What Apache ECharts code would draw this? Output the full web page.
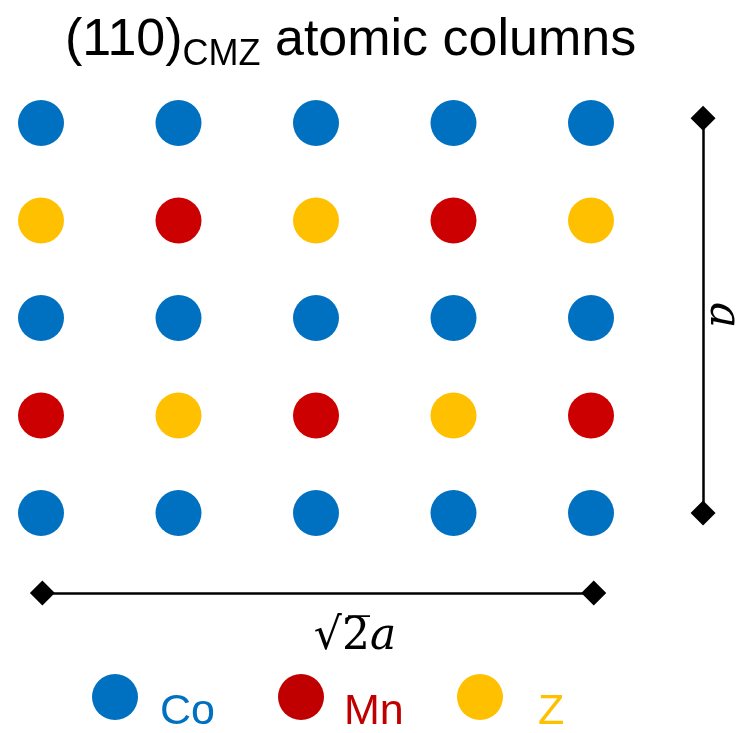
<!DOCTYPE html>
<html>
<head>
<meta charset="utf-8">
<script src="https://cdn.jsdelivr.net/npm/echarts@6/dist/echarts.min.js"></script>
<style>
html,body{margin:0;padding:0;background:#fff;}
#chart{width:744px;height:733px;}
</style>
</head>
<body>
<div id="chart"></div>
<script>
// ---- data ----
const columns = [0, 1, 2, 3, 4];
const rows = [0, 1, 2, 3, 4];
const siteRows = [
  ['Co', 'Co', 'Co', 'Co', 'Co'],
  ['Z',  'Mn', 'Z',  'Mn', 'Z'],
  ['Co', 'Co', 'Co', 'Co', 'Co'],
  ['Mn', 'Z',  'Mn', 'Z',  'Mn'],
  ['Co', 'Co', 'Co', 'Co', 'Co']
];
const elements = ['Co', 'Mn', 'Z'];
const elementColors = ['#0070C0', '#CC0000', '#FFC000'];
const legendColors = ['#0070C0', '#C00000', '#FFC000'];
// scale bars in lattice units
const verticalBar = [[4.815, -0.05], [4.815, 4.0]];
const horizontalBar = [[0.01, 4.82], [4.02, 4.82]];

function pointsFor(el) {
  const out = [];
  rows.forEach(r => columns.forEach(c => {
    if (siteRows[r][c] === el) out.push([c, r]);
  }));
  return out;
}

const chart = echarts.init(document.getElementById('chart'));
const circleSeries = elements.map((el, i) => ({
  name: el,
  type: 'scatter',
  data: pointsFor(el),
  symbol: 'circle',
  symbolSize: 46,
  itemStyle: { color: elementColors[i], opacity: 1 },
  emphasis: { disabled: true },
  silent: true
}));
const barSeries = {
  type: 'lines',
  coordinateSystem: 'cartesian2d',
  symbol: ['diamond', 'diamond'],
  symbolSize: 25,
  clip: false,
  lineStyle: { color: '#000', width: 2.5, opacity: 1 },
  silent: true,
  animation: false,
  data: [{ coords: verticalBar }, { coords: horizontalBar }]
};
const legendLefts = [87, 273, 452];
const legendTextPads = [[30, 0, 0, 17], [30, 0, 0, 15], [30, 0, 0, 30]];
const legends = elements.map((el, i) => ({
  left: legendLefts[i],
  top: 669,
  itemWidth: 46,
  itemHeight: 46,
  selectedMode: false,
  icon: 'circle',
  formatter: name => '{t|' + name + '}',
  textStyle: {
    rich: { t: { color: legendColors[i], fontSize: 43, fontFamily: 'Liberation Sans', padding: legendTextPads[i] } }
  },
  data: [{ name: el, itemStyle: { color: legendColors[i] } }]
}));

chart.setOption({
  animation: false,
  title: {
    text: '{m|(110)}{s|CMZ}{m| atomic columns}',
    left: 60,
    top: 4,
    textStyle: {
      fontWeight: 'normal',
      rich: {
        m: { fontFamily: 'Liberation Sans', fontWeight: 'normal', fontSize: 52, color: '#000', lineHeight: 64, verticalAlign: 'middle' },
        s: { fontFamily: 'Liberation Sans', fontWeight: 'normal', fontSize: 36, color: '#000', lineHeight: 36, verticalAlign: 'bottom' }
      }
    }
  },
  grid: { left: 41, right: 153, top: 123, bottom: 220 },
  xAxis: { type: 'value', min: 0, max: 4, show: false },
  yAxis: { type: 'value', min: 0, max: 4, inverse: true, show: false },
  legend: legends,
  series: circleSeries.concat([barSeries]),
  graphic: [
    {
      type: 'text',
      x: 355, y: 638,
      style: {
        text: '{r|√2̅}{i|a}',
        align: 'center', verticalAlign: 'middle',
        rich: {
          r: { fontFamily: 'DejaVu Serif', fontSize: 44, fill: '#000' },
          i: { fontFamily: 'DejaVu Serif', fontStyle: 'italic', fontSize: 44, fill: '#000' }
        }
      }
    },
    {
      type: 'text',
      x: 722, y: 315,
      rotation: -Math.PI / 2,
      style: {
        text: 'a',
        align: 'center', verticalAlign: 'middle',
        fontFamily: 'DejaVu Serif', fontStyle: 'italic', fontSize: 44, fill: '#000'
      }
    }
  ]
});
</script>
</body>
</html>
